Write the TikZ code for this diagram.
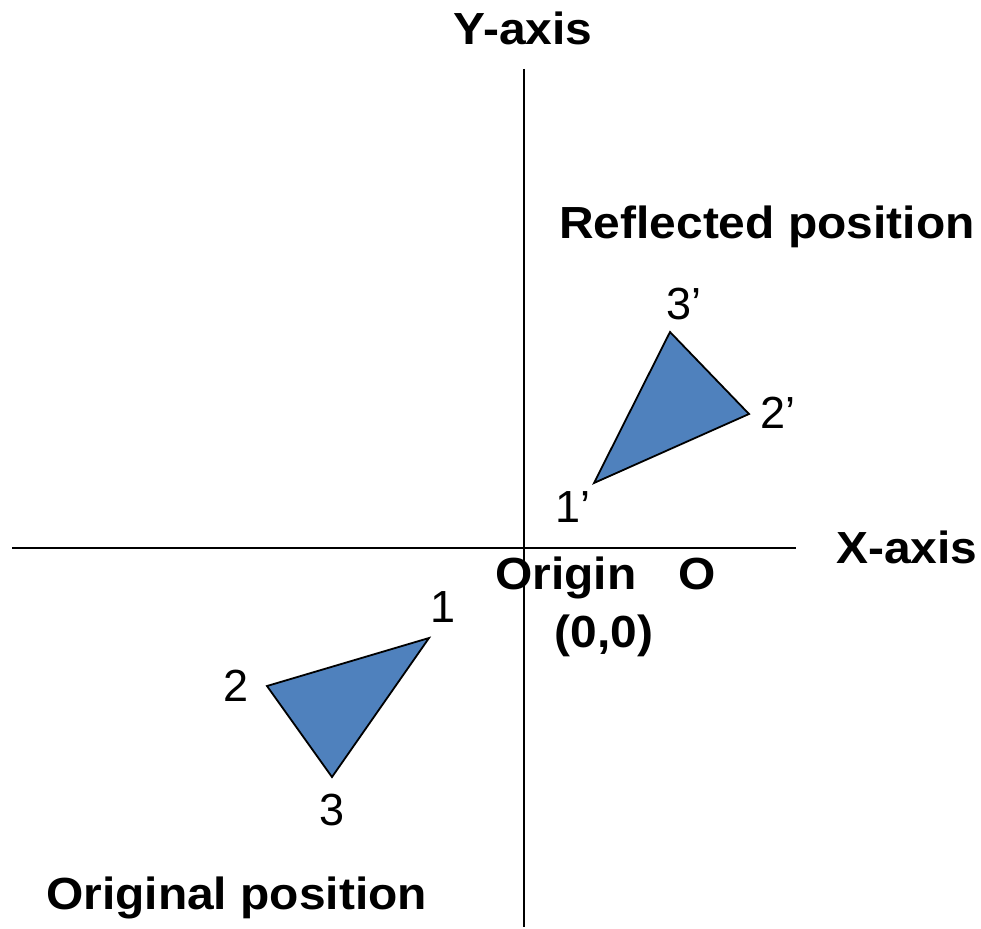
\documentclass[tikz,border=0pt]{standalone}
\usepackage{fontspec}
\usepackage{graphicx}
\setmainfont{Liberation Sans}
\definecolor{triblue}{RGB}{79,129,189}
\newcommand{\widetxt}[1]{\scalebox{1.065}[1]{#1}}
\tikzset{
  axisline/.style={line width=2pt, black},
  tri/.style={fill=triblue, draw=black, line width=1.8pt, line join=miter},
  bigbold/.style={inner sep=0pt, font=\fontsize{45}{50}\selectfont\bfseries},
  vlabel/.style={inner sep=0pt, font=\fontsize{45}{50}\selectfont},
}
\begin{document}
\begin{tikzpicture}[x=1pt,y=-1pt]
\useasboundingbox (0,0) rectangle (981,928);
% axes
\coordinate (xl) at (12,548);
\coordinate (xr) at (796,548);
\coordinate (yt) at (524,69);
\coordinate (yb) at (524,927);
\draw[axisline] (xl) -- (xr);
\draw[axisline] (yt) -- (yb);
% reflected triangle
\coordinate (p1r) at (594,483);
\coordinate (p2r) at (749,414);
\coordinate (p3r) at (670,332);
\draw[tri] (p1r) -- (p2r) -- (p3r) -- cycle;
% original triangle
\coordinate (p1) at (429,638);
\coordinate (p2) at (267,686);
\coordinate (p3) at (332,777);
\draw[tri] (p1) -- (p2) -- (p3) -- cycle;
% texts
\node[bigbold, anchor=base] (yax) at (523,45) {\widetxt{Y-axis}};
\node[bigbold, anchor=base west] (xax) at (836,563) {\widetxt{X-axis}};
\node[bigbold, anchor=base west] (refl) at (559,238) {\widetxt{Reflected position}};
\node[bigbold, anchor=base west] (orig) at (46,909) {\widetxt{Original position}};
\node[bigbold, anchor=base west] (origin) at (495,589) {\widetxt{Origin\hspace{40pt}O}};
\node[bigbold, anchor=base] (zero) at (604,647) {\widetxt{(0,0)}};
% vertex labels
\node[vlabel, anchor=base west] (l3r) at (666,319) {3’};
\node[vlabel, anchor=base west] (l2r) at (760,428) {2’};
\node[vlabel, anchor=base west] (l1r) at (555,522) {1’};
\node[vlabel, anchor=base] (l1) at (443,622) {1};
\node[vlabel, anchor=base] (l2) at (236,701) {2};
\node[vlabel, anchor=base] (l3) at (332,825) {3};
\end{tikzpicture}
\end{document}
